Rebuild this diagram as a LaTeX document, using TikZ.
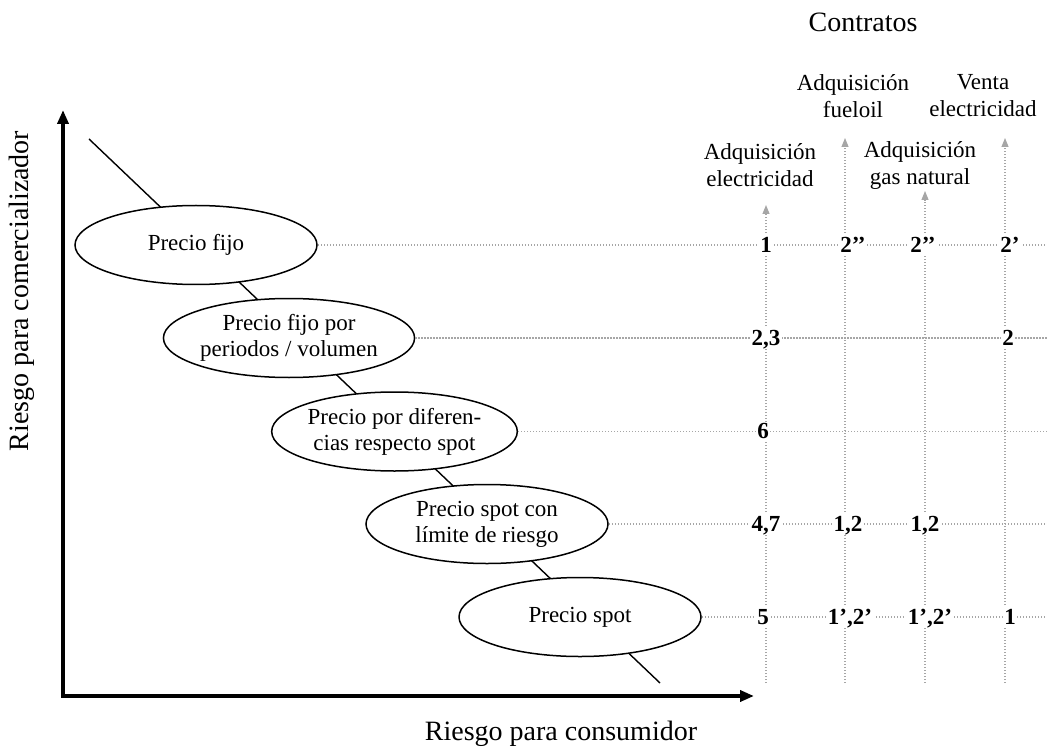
\documentclass[tikz,border=0pt]{standalone}
\usepackage{fontspec}
\setmainfont{Liberation Serif}
\usetikzlibrary{arrows.meta,shapes.geometric}
\begin{document}
\begin{tikzpicture}[x=0.5pt,y=-0.5pt,
  oval/.style={draw,ellipse,fill=white,line width=0.75pt,minimum width=121pt,minimum height=39.5pt,inner sep=0pt,align=center,font=\fontsize{11.5}{13}\selectfont},
  guide/.style={draw=gray!70,line width=0.6pt,dash pattern=on 0.6pt off 0.9pt},
  colarrow/.style={guide,-{Triangle[length=4.5pt,width=3.5pt,fill=gray!70]}},
  num/.style={fill=white,inner sep=0.8pt,text height=7.8pt,text depth=0.6pt,font=\fontsize{11.5}{13}\selectfont\bfseries},
  head/.style={align=center,font=\fontsize{11.5}{13.5}\selectfont},
  big/.style={font=\fontsize{14}{16}\selectfont},
  axis/.style={line width=1.8pt,{Triangle[length=7pt,width=5.5pt]}-{Triangle[length=7pt,width=5.5pt]}}]
\useasboundingbox (0,0) rectangle (1047,753);
% diagonal
\coordinate (d1) at (89,139);
\coordinate (d2) at (660,683);
\draw[line width=0.7pt] (d1) -- (d2);
% axes
\coordinate (ytop) at (63,110);
\coordinate (orig) at (63,696);
\coordinate (xend) at (754,696);
\draw[axis] (ytop) -- (orig) -- (xend);
% ellipses
\node[oval] (e1) at (196,245) {Precio fijo};
\node[oval] (e2) at (289,338) {Precio fijo por\\periodos / volumen};
\node[oval] (e3) at (394.5,431.5) {Precio por diferen-\\cias respecto spot};
\node[oval] (e4) at (487,524) {Precio spot con\\límite de riesgo};
\node[oval] (e5) at (580,617) {Precio spot};
% right ends
\coordinate (r1) at (1047,245);
\coordinate (r2) at (1047,338);
\coordinate (r3) at (1047,431.5);
\coordinate (r4) at (1047,524);
\coordinate (r5) at (1047,617);
\foreach \i in {1,...,5} \draw[guide] (e\i.east) -- (r\i);
% vertical columns
\coordinate (b1) at (766,683); \coordinate (t1) at (766,205);
\coordinate (b2) at (845,683); \coordinate (t2) at (845,138);
\coordinate (b3) at (925,683); \coordinate (t3) at (925,191);
\coordinate (b4) at (1005,683); \coordinate (t4) at (1005,138);
\foreach \i in {1,...,4} \draw[colarrow] (b\i) -- (t\i);
% numbers
\node[num] (n11) at (766,245) {1};
\node[num] (n12) at (853,245) {2’’};
\node[num] (n13) at (923,245) {2’’};
\node[num] (n14) at (1010,245) {2’};
\node[num] (n21) at (766,338) {2,3};
\node[num] (n24) at (1008,338) {2};
\node[num] (n31) at (763,431.5) {6};
\node[num] (n41) at (766,524) {4,7};
\node[num] (n42) at (848,524) {1,2};
\node[num] (n43) at (925,524) {1,2};
\node[num] (n51) at (763,617) {5};
\node[num] (n52) at (850,617) {1’,2’};
\node[num] (n53) at (930,617) {1’,2’};
\node[num] (n54) at (1010,617) {1};
% headers
\node[big] (contr) at (863,22) {Contratos};
\node[head] (h2) at (853,96) {Adquisición\\fueloil};
\node[head] (h4) at (983,96) {Venta\\electricidad};
\node[head] (h1) at (760,165) {Adquisición\\electricidad};
\node[head] (h3) at (920,165) {Adquisición\\gas natural};
% axis labels
\node[big,rotate=90] (ylab) at (22,291) {Riesgo para comercializador};
\node[big] (xlab) at (561,734) {Riesgo para consumidor};
\end{tikzpicture}
\end{document}
